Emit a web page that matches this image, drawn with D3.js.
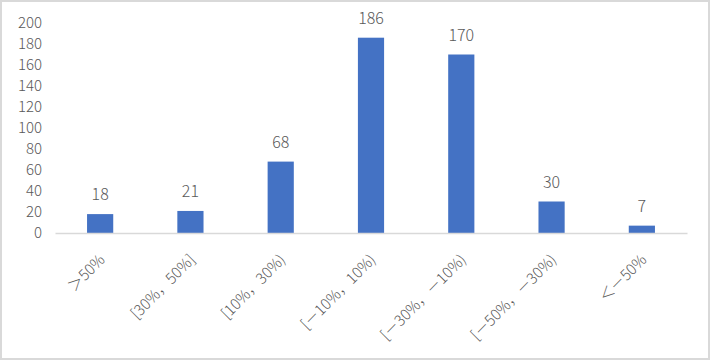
<!DOCTYPE html>
<html>
<head>
<meta charset="utf-8">
<script src="https://cdn.jsdelivr.net/npm/d3@7"></script>
<style>
body{margin:0;background:#fff;}
svg text{font-family:"Noto Sans CJK SC","Noto Sans",sans-serif;fill:#595959;font-weight:300;}
</style>
</head>
<body>
<div id="chart"></div>
<script>
var categories=["＞50%","[30%，50%]","[10%，30%)","[－10%，10%)","[－30%，－10%)","[－50%，－30%)","＜－50%"];
var values=[18,21,68,186,170,30,7];
var yTicks=[0,20,40,60,80,100,120,140,160,180,200];

var width=710,height=360;
var marge={top:23,left:55,right:23,bottom:127};

var svg=d3.select("#chart").append("svg")
    .attr("width",width)
    .attr("height",height);

// 外框
svg.append("rect")
    .attr("x",1).attr("y",1)
    .attr("width",width-2).attr("height",height-2)
    .attr("fill","white")
    .attr("stroke","#d9d9d9")
    .attr("stroke-width",2);

var x=d3.scaleBand()
    .domain(categories)
    .range([marge.left,width-marge.right])
    .paddingInner(0.71)
    .paddingOuter(0.355);

var y=d3.scaleLinear()
    .domain([0,200])
    .range([height-marge.bottom,marge.top]);

// y轴刻度
var yAxis=d3.axisLeft(y).tickValues(yTicks).tickSize(0).tickPadding(0);
var gy=svg.append("g")
    .attr("transform","translate(42,0)")
    .call(yAxis);
gy.select(".domain").remove();
gy.selectAll("text").attr("font-size",15).style("fill","#595959");

// 柱子
svg.append("g").selectAll("rect")
    .data(values)
    .enter()
    .append("rect")
    .attr("x",function(d,i){return x(categories[i]);})
    .attr("y",function(d){return y(d);})
    .attr("width",x.bandwidth())
    .attr("height",function(d){return y(0)-y(d);})
    .attr("fill","#4472C4");

// 数据标签
svg.append("g").selectAll("text")
    .data(values)
    .enter()
    .append("text")
    .attr("x",function(d,i){return x(categories[i])+x.bandwidth()/2;})
    .attr("y",function(d){return y(d)-14;})
    .attr("text-anchor","middle")
    .attr("font-size",16)
    .text(function(d){return d;});

// x轴
var xAxis=d3.axisBottom(x).tickSize(0).tickPadding(0);
var gx=svg.append("g")
    .attr("transform","translate(0,"+y(0)+")")
    .call(xAxis);
gx.select(".domain").attr("stroke","#d9d9d9").attr("stroke-width",1.5);
gx.selectAll("text")
    .attr("font-size",15)
    .attr("text-anchor","end")
    .attr("dy","0.35em")
    .attr("y",0)
    .attr("transform","translate(2,24) rotate(-45)")
    .style("fill","#595959");
</script>
</body>
</html>
